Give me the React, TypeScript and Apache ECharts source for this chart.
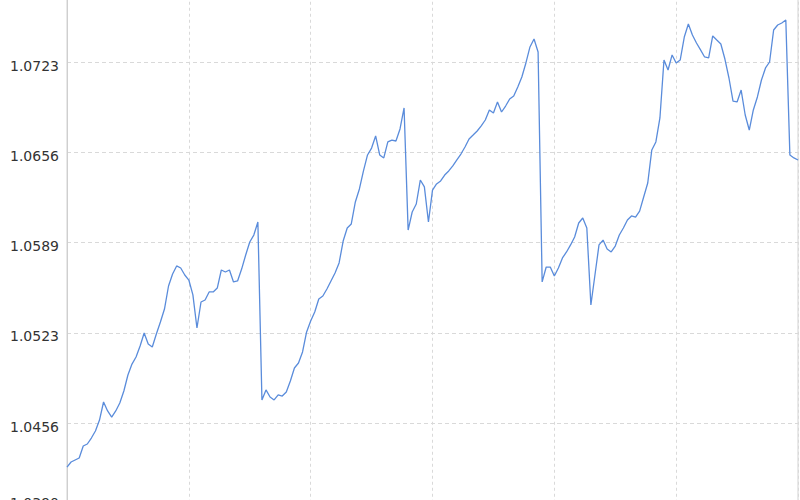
import React, { useEffect, useRef } from "react";
import * as echarts from "echarts";

// Net value series (one point per trading day)
const navValues: number[] = [
  1.04237, 1.04274, 1.04289, 1.04304, 1.04392, 1.04407, 1.04451, 1.04503, 1.04584, 1.04717,
  1.04651, 1.04606, 1.04651, 1.0471, 1.04798, 1.04916, 1.04997, 1.05049, 1.0513, 1.05226,
  1.05145, 1.05123, 1.05219, 1.05307, 1.05403, 1.05573, 1.05662, 1.05721, 1.05706, 1.05654,
  1.05617, 1.05507, 1.05263, 1.05455, 1.0547, 1.05529, 1.05529, 1.05558, 1.05691, 1.05676,
  1.05691, 1.05603, 1.0561, 1.05698, 1.05802, 1.05898, 1.05949, 1.06045, 1.04732, 1.04806,
  1.04754, 1.04732, 1.04769, 1.04761, 1.04791, 1.04872, 1.04968, 1.05005, 1.05086, 1.05234,
  1.05315, 1.05381, 1.05477, 1.05499, 1.05551, 1.0561, 1.05669, 1.05743, 1.05905, 1.06001,
  1.06031, 1.06193, 1.06289, 1.06422, 1.0654, 1.06591, 1.0668, 1.0654, 1.06518, 1.06636,
  1.0665, 1.06643, 1.06732, 1.06887, 1.05986, 1.06119, 1.06178, 1.06355, 1.06304, 1.06045,
  1.06281, 1.06326, 1.06348, 1.06392, 1.06422, 1.06459, 1.06503, 1.06547, 1.06599, 1.06658,
  1.06687, 1.06717, 1.06754, 1.06798, 1.06872, 1.0685, 1.06931, 1.06857, 1.06901, 1.06953,
  1.06975, 1.07042, 1.07115, 1.07219, 1.07337, 1.07396, 1.073, 1.05603, 1.05713, 1.05713,
  1.05647, 1.05706, 1.0578, 1.05824, 1.05876, 1.05935, 1.06038, 1.06075, 1.06001, 1.05433,
  1.05654, 1.05876, 1.05912, 1.05846, 1.05824, 1.05868, 1.05949, 1.06001, 1.0606, 1.0609,
  1.06082, 1.06126, 1.0623, 1.06333, 1.06577, 1.06636, 1.06813, 1.07241, 1.07167, 1.07278,
  1.07219, 1.07241, 1.0741, 1.07506, 1.07425, 1.07366, 1.07315, 1.07263, 1.07256, 1.07418,
  1.07388, 1.07359, 1.07248, 1.07108, 1.06938, 1.06931, 1.07019, 1.06835, 1.06724, 1.06872,
  1.06968, 1.07093, 1.07182, 1.07226, 1.07462, 1.07499, 1.07514, 1.07536, 1.0654, 1.06518,
  1.06503,
];

// Trading-day categories (their labels lie below the visible area)
const dayLabels: string[] = navValues.map((_, i) => `D${i + 1}`);

// Y axis ticks (the top tick lies above the visible area and carries no label)
const yTickLabels: string[] = ["1.0390", "1.0456", "1.0523", "1.0589", "1.0656", "1.0723", ""];
const yMin = 1.03896;
const yStep = 0.00666;
const yMax = 1.07892;

const FONT = "DejaVu Sans, Verdana, sans-serif";

export default function App() {
  const ref = useRef<HTMLDivElement>(null);
  useEffect(() => {
    if (!ref.current) return;
    const chart = echarts.init(ref.current, undefined, { renderer: "svg" });
    chart.setOption({
      animation: false,
      backgroundColor: "#ffffff",
      grid: {
        left: 67,
        right: 2,
        top: 11.75,
        bottom: 46.75,
        show: true,
        borderColor: "#d2d2d2",
        borderWidth: 1,
      },
      xAxis: {
        type: "category",
        data: dayLabels,
        boundaryGap: false,
        axisLine: { show: false },
        axisTick: { show: false },
        axisLabel: { show: false },
        splitLine: {
          show: true,
          interval: 29,
          lineStyle: { color: "#d9d9d9", type: [3, 3], width: 1 },
        },
      },
      yAxis: {
        type: "value",
        min: yMin,
        max: yMax,
        interval: yStep,
        axisLine: { show: true, lineStyle: { color: "#cfcfcf", width: 1 } },
        axisTick: { show: false },
        axisLabel: {
          margin: 8,
          showMaxLabel: false,
          formatter: (v: number) => {
            const i = Math.round((v - yMin) / yStep);
            const t = yTickLabels[i] ?? "";
            if (!t) return "";
            return i === 0 ? `{low|${t}}` : `{mid|${t}}`;
          },
          rich: {
            mid: { fontFamily: FONT, fontSize: 14, color: "#333333", padding: [7, 0, 0, 0] },
            low: { fontFamily: FONT, fontSize: 14, color: "#333333", padding: [0, 0, 20, 0] },
          },
        },
        splitLine: {
          show: true,
          lineStyle: { color: "#d9d9d9", type: [4, 3], width: 1 },
        },
      },
      series: [
        {
          type: "line",
          data: navValues,
          showSymbol: false,
          symbol: "none",
          lineStyle: { color: "#5a8cdb", width: 1.3 },
        },
      ],
    });
    return () => chart.dispose();
  }, []);
  return (
    <div
      style={{
        position: "fixed",
        left: 0,
        top: 0,
        width: 800,
        height: 500,
        overflow: "hidden",
        background: "#fff",
      }}
    >
      <div ref={ref} style={{ position: "absolute", left: 0, top: -40, width: 800, height: 600 }} />
    </div>
  );
}
